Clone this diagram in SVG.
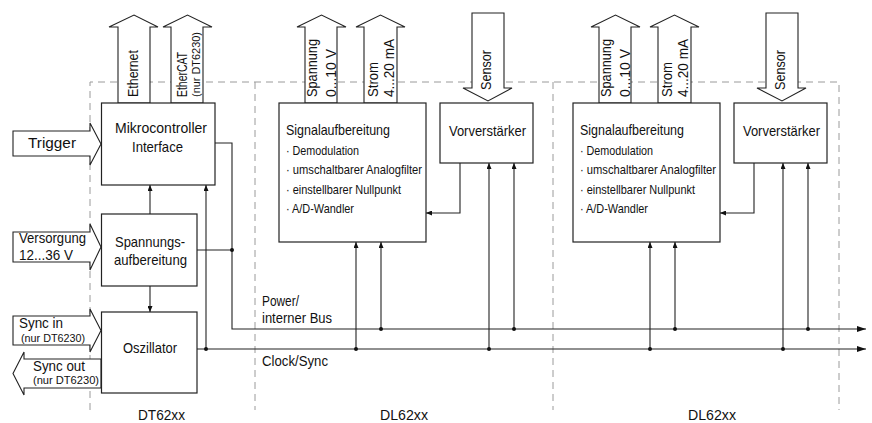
<svg xmlns="http://www.w3.org/2000/svg" width="872" height="423" viewBox="0 0 872 423">
<style>
text{font-family:"Liberation Sans",Arial,sans-serif;fill:#111;}
.t{font-size:15px;}
.s{font-size:13px;}
.r{font-size:14px;}
.m{font-size:11px;}
.box{fill:#fff;stroke:#222;stroke-width:1.2;}
.ba{fill:#fff;stroke:#222;stroke-width:1.1;stroke-linejoin:miter;}
.ln{fill:none;stroke:#222;stroke-width:1.1;}
.dash{fill:none;stroke:#9a9a9a;stroke-width:1;stroke-dasharray:7 5;}
.dot{fill:#111;}
</style>
<defs>
<marker id="a" markerUnits="userSpaceOnUse" markerWidth="6" markerHeight="5" refX="6" refY="2.5" orient="auto"><path d="M0,0 L6,2.5 L0,5 z" fill="#111"/></marker>
<marker id="b" markerUnits="userSpaceOnUse" markerWidth="9" markerHeight="6" refX="9" refY="3" orient="auto"><path d="M0,0 L9,3 L0,6 z" fill="#111"/></marker>
</defs>
<g id="regions">
<path class="dash" d="M90,410 V82 H839 V410 M255,82 V410 M553,82 V410"/>
<text class="t" x="138" y="420" textLength="47" lengthAdjust="spacingAndGlyphs">DT62xx</text>
<text class="t" x="380" y="420" textLength="48" lengthAdjust="spacingAndGlyphs">DL62xx</text>
<text class="t" x="688" y="420" textLength="48" lengthAdjust="spacingAndGlyphs">DL62xx</text>
</g>
<g id="connectors">
<path class="ln" d="M150,214 V185" marker-end="url(#a)"/>
<path class="ln" d="M150,286 V312" marker-end="url(#a)"/>
<path class="ln" d="M215,143 H232 V329 H866" marker-end="url(#b)"/>
<path class="ln" d="M197,250 H232"/>
<path class="ln" d="M197,349 H866" marker-end="url(#b)"/>
<path class="ln" d="M206,349 V185" marker-end="url(#a)"/>
<path class="ln" d="M460,163 V213 H426" marker-end="url(#a)"/>
<path class="ln" d="M356,349 V242" marker-end="url(#a)"/>
<path class="ln" d="M381,329 V242" marker-end="url(#a)"/>
<path class="ln" d="M489,349 V163" marker-end="url(#a)"/>
<path class="ln" d="M514,329 V163" marker-end="url(#a)"/>
<path class="ln" d="M754,163 V213 H720" marker-end="url(#a)"/>
<path class="ln" d="M650,349 V242" marker-end="url(#a)"/>
<path class="ln" d="M675,329 V242" marker-end="url(#a)"/>
<path class="ln" d="M783,349 V163" marker-end="url(#a)"/>
<path class="ln" d="M808,329 V163" marker-end="url(#a)"/>
<circle class="dot" cx="232" cy="250" r="2"/>
<circle class="dot" cx="206" cy="349" r="2"/>
<circle class="dot" cx="356" cy="349" r="2"/>
<circle class="dot" cx="381" cy="329" r="2"/>
<circle class="dot" cx="489" cy="349" r="2"/>
<circle class="dot" cx="514" cy="329" r="2"/>
<circle class="dot" cx="650" cy="349" r="2"/>
<circle class="dot" cx="675" cy="329" r="2"/>
<circle class="dot" cx="783" cy="349" r="2"/>
<circle class="dot" cx="808" cy="329" r="2"/>
<text class="r" x="262" y="306" textLength="37" lengthAdjust="spacingAndGlyphs">Power/</text>
<text class="r" x="262" y="323" textLength="70" lengthAdjust="spacingAndGlyphs">interner Bus</text>
<text class="r" x="262" y="366" textLength="66" lengthAdjust="spacingAndGlyphs">Clock/Sync</text>
</g>
<g id="ethernet">
<polygon class="ba" points="118,103 118,27 109,27 134,15 158,27 150,27 150,103"/>
<text class="r" transform="translate(138,97) rotate(-90)" textLength="47" lengthAdjust="spacingAndGlyphs">Ethernet</text>
</g>
<g id="ethercat">
<polygon class="ba" points="171,103 171,27 163,27 187.5,15 212,27 203,27 203,103"/>
<text class="r" transform="translate(187,97) rotate(-90)" textLength="45" lengthAdjust="spacingAndGlyphs">EtherCAT</text>
<text class="m" transform="translate(200,97) rotate(-90)" textLength="65" lengthAdjust="spacingAndGlyphs">(nur DT6230)</text>
</g>
<g id="mikrocontroller">
<rect class="box" x="101.5" y="103" width="113.5" height="82"/>
<text class="t" x="115" y="133" textLength="92" lengthAdjust="spacingAndGlyphs">Mikrocontroller</text>
<text class="t" x="132" y="152" textLength="51" lengthAdjust="spacingAndGlyphs">Interface</text>
</g>
<g id="trigger">
<polygon class="ba" points="13,131 90,131 90,123 101,144 90,165 90,156 13,156"/>
<text class="t" x="28" y="148" textLength="48" lengthAdjust="spacingAndGlyphs">Trigger</text>
</g>
<g id="versorgung">
<polygon class="ba" points="13,232 90,232 90,224 101,247 90,270 90,262 13,262"/>
<text class="t" x="19" y="243" textLength="67" lengthAdjust="spacingAndGlyphs">Versorgung</text>
<text class="t" x="19" y="260" textLength="54" lengthAdjust="spacingAndGlyphs">12...36 V</text>
</g>
<g id="spannungsaufbereitung">
<rect class="box" x="101.5" y="214" width="95.5" height="72"/>
<text class="t" x="115" y="247" textLength="70" lengthAdjust="spacingAndGlyphs">Spannungs-</text>
<text class="t" x="114" y="265" textLength="73" lengthAdjust="spacingAndGlyphs">aufbereitung</text>
</g>
<g id="syncin">
<polygon class="ba" points="13,316 90,316 90,309 101,330.5 90,352 90,345 13,345"/>
<text class="t" x="19" y="328" textLength="44" lengthAdjust="spacingAndGlyphs">Sync in</text>
<text class="m" x="21" y="342" textLength="64" lengthAdjust="spacingAndGlyphs">(nur DT6230)</text>
</g>
<g id="syncout">
<polygon class="ba" points="101,359 24,359 24,352 13,373.5 24,395 24,388 101,388"/>
<text class="t" x="33" y="371" textLength="52" lengthAdjust="spacingAndGlyphs">Sync out</text>
<text class="m" x="33" y="384" textLength="66" lengthAdjust="spacingAndGlyphs">(nur DT6230)</text>
</g>
<g id="oszillator">
<rect class="box" x="101.5" y="312" width="95.5" height="81"/>
<text class="t" x="123" y="353" textLength="54" lengthAdjust="spacingAndGlyphs">Oszillator</text>
</g>
<g id="dl1">
<g id="spannung1">
<polygon class="ba" points="305,103 305,27 297,27 321.5,15 346,27 337,27 337,103"/>
<text class="r" transform="translate(317,97) rotate(-90)" textLength="58" lengthAdjust="spacingAndGlyphs">Spannung</text>
<text class="r" transform="translate(336,97) rotate(-90)" textLength="48" lengthAdjust="spacingAndGlyphs">0...10 V</text>
</g>
<g id="strom1">
<polygon class="ba" points="364,103 364,27 356,27 380.5,15 405,27 397,27 397,103"/>
<text class="r" transform="translate(378,97) rotate(-90)" textLength="35" lengthAdjust="spacingAndGlyphs">Strom</text>
<text class="r" transform="translate(394,97) rotate(-90)" textLength="58" lengthAdjust="spacingAndGlyphs">4...20 mA</text>
</g>
<g id="sensor1">
<polygon class="ba" points="472,13 504,13 504,88 512,88 488,101 463,88 472,88"/>
<text class="r" transform="translate(491,90) rotate(-90)" textLength="40" lengthAdjust="spacingAndGlyphs">Sensor</text>
</g>
<g id="signal1">
<rect class="box" x="279" y="103" width="147" height="139"/>
<text class="t" x="286" y="135" textLength="104" lengthAdjust="spacingAndGlyphs">Signalaufbereitung</text>
<text class="s" x="286" y="155" textLength="73" lengthAdjust="spacingAndGlyphs">· Demodulation</text>
<text class="s" x="286" y="174" textLength="136" lengthAdjust="spacingAndGlyphs">· umschaltbarer Analogfilter</text>
<text class="s" x="286" y="194" textLength="115" lengthAdjust="spacingAndGlyphs">· einstellbarer Nullpunkt</text>
<text class="s" x="286" y="213" textLength="68" lengthAdjust="spacingAndGlyphs">· A/D-Wandler</text>
</g>
<g id="vorverstaerker1">
<rect class="box" x="440" y="103" width="93" height="60"/>
<text class="t" x="449" y="136" textLength="77" lengthAdjust="spacingAndGlyphs">Vorverstärker</text>
</g>
</g>
<g id="dl2" transform="translate(294,0)">
<g id="spannung2">
<polygon class="ba" points="305,103 305,27 297,27 321.5,15 346,27 337,27 337,103"/>
<text class="r" transform="translate(317,97) rotate(-90)" textLength="58" lengthAdjust="spacingAndGlyphs">Spannung</text>
<text class="r" transform="translate(336,97) rotate(-90)" textLength="48" lengthAdjust="spacingAndGlyphs">0...10 V</text>
</g>
<g id="strom2">
<polygon class="ba" points="364,103 364,27 356,27 380.5,15 405,27 397,27 397,103"/>
<text class="r" transform="translate(378,97) rotate(-90)" textLength="35" lengthAdjust="spacingAndGlyphs">Strom</text>
<text class="r" transform="translate(394,97) rotate(-90)" textLength="58" lengthAdjust="spacingAndGlyphs">4...20 mA</text>
</g>
<g id="sensor2">
<polygon class="ba" points="472,13 504,13 504,88 512,88 488,101 463,88 472,88"/>
<text class="r" transform="translate(491,90) rotate(-90)" textLength="40" lengthAdjust="spacingAndGlyphs">Sensor</text>
</g>
<g id="signal2">
<rect class="box" x="279" y="103" width="147" height="139"/>
<text class="t" x="286" y="135" textLength="104" lengthAdjust="spacingAndGlyphs">Signalaufbereitung</text>
<text class="s" x="286" y="155" textLength="73" lengthAdjust="spacingAndGlyphs">· Demodulation</text>
<text class="s" x="286" y="174" textLength="136" lengthAdjust="spacingAndGlyphs">· umschaltbarer Analogfilter</text>
<text class="s" x="286" y="194" textLength="115" lengthAdjust="spacingAndGlyphs">· einstellbarer Nullpunkt</text>
<text class="s" x="286" y="213" textLength="68" lengthAdjust="spacingAndGlyphs">· A/D-Wandler</text>
</g>
<g id="vorverstaerker2">
<rect class="box" x="440" y="103" width="93" height="60"/>
<text class="t" x="449" y="136" textLength="77" lengthAdjust="spacingAndGlyphs">Vorverstärker</text>
</g>
</g>
</svg>
